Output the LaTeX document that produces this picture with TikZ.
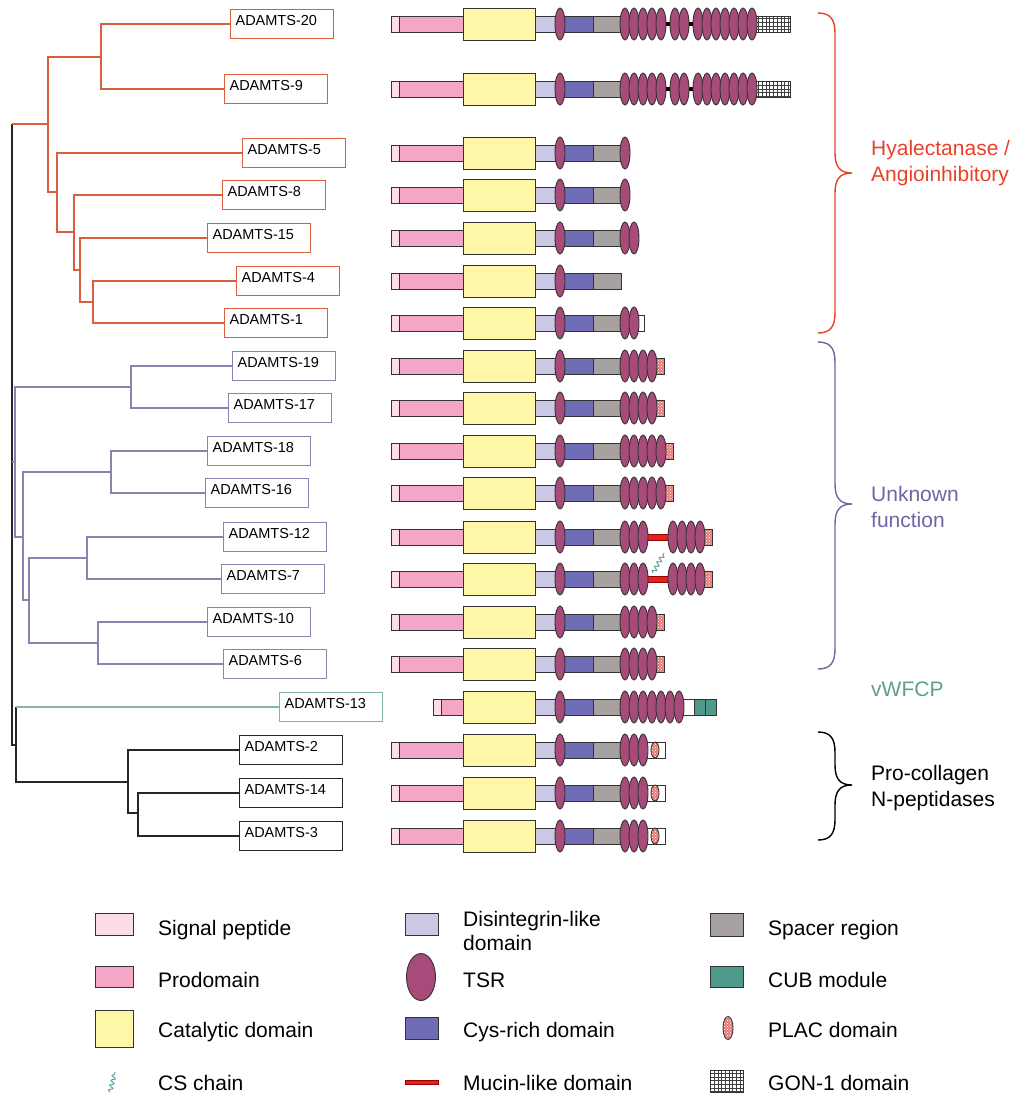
\documentclass[tikz,border=0pt]{standalone}
\usepackage{fontspec}
\setmainfont{Liberation Sans}
\usepackage{xcolor}
\usetikzlibrary{patterns,decorations.pathmorphing}

\definecolor{sigpink}{HTML}{FBDCE7}
\definecolor{propink}{HTML}{F3A6C6}
\definecolor{catyel}{HTML}{FFF7A8}
\definecolor{dislav}{HTML}{CAC8E4}
\definecolor{cyspur}{HTML}{716CB6}
\definecolor{spagray}{HTML}{A8A1A1}
\definecolor{tsrmag}{HTML}{A64B7A}
\definecolor{cubteal}{HTML}{4F9B8B}
\definecolor{mucred}{HTML}{E2231E}
\definecolor{placred}{HTML}{E0504A}
\definecolor{csteal}{HTML}{5FA3A3}
\definecolor{hyared}{HTML}{D8603F}
\definecolor{hyatxt}{HTML}{E8412B}
\definecolor{unkpur}{HTML}{8784B2}
\definecolor{unktxt}{HTML}{6C66A4}
\definecolor{vwfteal}{HTML}{86B3AD}
\definecolor{vwftxt}{HTML}{5E9E90}

% N-terminal half shared by every protease: signal, pro, catalytic, disintegrin, TSR, cys-rich, spacer
\newcommand{\adamcore}[2]{%
  \draw[dom,fill=sigpink] (#2,#1-8) rectangle (#2+8,#1+8);
  \draw[dom,fill=propink] (#2+8,#1-8) rectangle (463,#1+8);
  \draw[dom,fill=catyel] (463,#1-16) rectangle (535,#1+16);
  \draw[dom,fill=dislav] (535,#1-8) rectangle (557,#1+8);
  \draw[dom,fill=cyspur] (557,#1-8) rectangle (593,#1+8);
  \draw[dom,fill=spagray] (593,#1-8) rectangle (621,#1+8);
  \draw[dom,fill=tsrmag] (560,#1) ellipse (5pt and 16pt);
}
% a run of TSRs: row, first x, count
\newcommand{\tsrrun}[3]{%
  \foreach \k in {1,...,#3}
    \draw[dom,fill=tsrmag] ({#2+9*(\k-1)},#1) ellipse (5pt and 16pt);
}
\newcommand{\placbox}[2]{%
  \draw[dom,preaction={fill=placred!75},pattern=crosshatch dots,pattern color=white] (#2,#1-8) rectangle (#2+8,#1+8);
}
% GON-1 box: corners
\newcommand{\gonbox}[4]{%
  \fill[white] (#1,#2) rectangle (#3,#4);
  \draw[black!75, line width=0.4pt, step=3.7pt] (#1,#2) grid (#3,#4);
  \draw[dom] (#1,#2) rectangle (#3,#4);
}
% colour, top, tip, bottom
\newcommand{\groupbrace}[4]{%
  \draw[#1, line width=1.4pt] (818,#2) .. controls (830,#2) and (835,#2+6) .. (835,#2+20)
    -- (835,#3-20) .. controls (835,#3-6) and (840,#3) .. (852,#3)
    .. controls (840,#3) and (835,#3+6) .. (835,#3+20)
    -- (835,#4-20) .. controls (835,#4-6) and (830,#4) .. (818,#4);
}

\begin{document}
\begin{tikzpicture}[x=1pt,y=-1pt]
    \useasboundingbox (0,0) rectangle (1024,1106);

    \tikzstyle{dom}=[draw=black!80, line width=0.9pt]
    \tikzstyle{genebox}=[rectangle, line width=1.2pt, minimum height=29pt, inner xsep=5pt, text width=93pt, align=left, text height=10.5pt, text depth=8pt, font=\fontsize{14.5}{17}\selectfont, anchor=west]
    \tikzstyle{hyabox}=[genebox, draw=hyared]
    \tikzstyle{unkbox}=[genebox, draw=unkpur]
    \tikzstyle{vwfbox}=[genebox, draw=vwfteal]
    \tikzstyle{pcbox}=[genebox, draw=black!85]
    \tikzstyle{hyaline}=[draw=hyared, line width=1.2pt]
    \tikzstyle{unkline}=[draw=unkpur, line width=1.2pt]
    \tikzstyle{vwfline}=[draw=vwfteal, line width=1.2pt]
    \tikzstyle{pcline}=[draw=black!85, line width=1.2pt]
    \tikzstyle{cschain}=[csteal, line width=1pt, decorate, decoration={snake, amplitude=2pt, segment length=5pt}]
    \tikzstyle{keytext}=[anchor=base west, inner sep=0pt, align=left, font=\fontsize{21}{24}\selectfont]
    \tikzstyle{grouptext}=[anchor=base west, inner sep=0pt, align=left, font=\fontsize{21}{26}\selectfont]

    % gene names
    \node[hyabox] (a20) at (230,24) {ADAMTS-20};
    \node[hyabox] (a9)  at (224,89) {ADAMTS-9};
    \node[hyabox] (a5)  at (242,153) {ADAMTS-5};
    \node[hyabox] (a8)  at (222,195) {ADAMTS-8};
    \node[hyabox] (a15) at (207,238) {ADAMTS-15};
    \node[hyabox] (a4)  at (236,281) {ADAMTS-4};
    \node[hyabox] (a1)  at (224,323) {ADAMTS-1};
    \node[unkbox] (a19) at (232,366) {ADAMTS-19};
    \node[unkbox] (a17) at (228,408) {ADAMTS-17};
    \node[unkbox] (a18) at (207,451) {ADAMTS-18};
    \node[unkbox] (a16) at (205,493) {ADAMTS-16};
    \node[unkbox] (a12) at (223,537) {ADAMTS-12};
    \node[unkbox] (a7)  at (221,579) {ADAMTS-7};
    \node[unkbox] (a10) at (207,622) {ADAMTS-10};
    \node[unkbox] (a6)  at (223,664) {ADAMTS-6};
    \node[vwfbox] (a13) at (279,707) {ADAMTS-13};
    \node[pcbox]  (a2)  at (239,750) {ADAMTS-2};
    \node[pcbox]  (a14) at (239,793) {ADAMTS-14};
    \node[pcbox]  (a3)  at (239,836) {ADAMTS-3};

    % tree
    \coordinate (rtop) at (12,124);
    \coordinate (rbot) at (12,745);
    \coordinate (hya) at (48,124);
    \coordinate (h1) at (101,57);
    \coordinate (h2) at (57,192);
    \coordinate (h3) at (74,232);
    \coordinate (h4) at (80,270);
    \coordinate (h5) at (93,302);
    \coordinate (unk) at (15,462);
    \coordinate (u1) at (131,387);
    \coordinate (u2) at (23,537);
    \coordinate (u3) at (111,472);
    \coordinate (u4) at (29,600);
    \coordinate (u5) at (87,558);
    \coordinate (u6) at (98,643);
    \coordinate (low) at (16,745);
    \coordinate (pc) at (128,782);
    \coordinate (pc2) at (138,813);

    \draw [pcline] (rtop) -- (rbot) -- (low);
    \draw [hyaline] (rtop) -- (hya);
    \draw [hyaline] (hya) |- (h1);
    \draw [hyaline] (hya) |- (h2);
    \draw [hyaline] (h1) |- (a20.west);
    \draw [hyaline] (h1) |- (a9.west);
    \draw [hyaline] (h2) |- (a5.west);
    \draw [hyaline] (h2) |- (h3);
    \draw [hyaline] (h3) |- (a8.west);
    \draw [hyaline] (h3) |- (h4);
    \draw [hyaline] (h4) |- (a15.west);
    \draw [hyaline] (h4) |- (h5);
    \draw [hyaline] (h5) |- (a4.west);
    \draw [hyaline] (h5) |- (a1.west);

    \draw [unkline] (rtop |- unk) -- (unk);
    \draw [unkline] (unk) |- (u1);
    \draw [unkline] (unk) |- (u2);
    \draw [unkline] (u1) |- (a19.west);
    \draw [unkline] (u1) |- (a17.west);
    \draw [unkline] (u2) |- (u3);
    \draw [unkline] (u2) |- (u4);
    \draw [unkline] (u3) |- (a18.west);
    \draw [unkline] (u3) |- (a16.west);
    \draw [unkline] (u4) |- (u5);
    \draw [unkline] (u4) |- (u6);
    \draw [unkline] (u5) |- (a12.west);
    \draw [unkline] (u5) |- (a7.west);
    \draw [unkline] (u6) |- (a10.west);
    \draw [unkline] (u6) |- (a6.west);

    \draw [pcline] (low) -- (low |- a13.west);
    \draw [vwfline] (low |- a13.west) -- (a13.west);
    \draw [pcline] (low) |- (pc);
    \draw [pcline] (pc) |- (a2.west);
    \draw [pcline] (pc) |- (pc2);
    \draw [pcline] (pc2) |- (a14.west);
    \draw [pcline] (pc2) |- (a3.west);

    % domain organisation
    \foreach \ry in {24,89} {
      \adamcore{\ry}{391}
      \gonbox{752}{\ry-8}{790}{\ry+8}
      \fill[black] (660,\ry-2) rectangle (676,\ry+2);
      \fill[black] (684,\ry-2) rectangle (698,\ry+2);
      \tsrrun{\ry}{625}{5}
      \tsrrun{\ry}{675}{2}
      \tsrrun{\ry}{698}{7}
    }
    \foreach \ry in {153,195} {
      \adamcore{\ry}{391}
      \tsrrun{\ry}{625}{1}
    }
    \adamcore{238}{391}
    \tsrrun{238}{625}{2}
    \adamcore{281}{391}
    \adamcore{323}{391}
    \draw[dom,fill=white] (630,315) rectangle (644,331);
    \tsrrun{323}{625}{2}

    \foreach \ry in {366,408,622,664} {
      \adamcore{\ry}{391}
      \placbox{\ry}{656}
      \tsrrun{\ry}{625}{4}
    }
    \foreach \ry in {451,493} {
      \adamcore{\ry}{391}
      \placbox{\ry}{665}
      \tsrrun{\ry}{625}{5}
    }
    \foreach \ry in {537,579} {
      \adamcore{\ry}{391}
      \draw[draw=red!60!black, line width=0.5pt, fill=mucred] (646,\ry-3) rectangle (671,\ry+3);
      \tsrrun{\ry}{625}{3}
      \placbox{\ry}{704}
      \tsrrun{\ry}{673}{4}
    }
    \draw[cschain] (653,573) -- (664,553);

    \adamcore{707}{433}
    \draw[dom,fill=white] (680,699) rectangle (694,715);
    \draw[dom,fill=cubteal] (694,699) rectangle (705,715);
    \draw[dom,fill=cubteal] (705,699) rectangle (716,715);
    \tsrrun{707}{625}{7}

    \foreach \ry in {750,793,836} {
      \adamcore{\ry}{391}
      \draw[dom,fill=white] (645,\ry-8) rectangle (665,\ry+8);
      \draw[dom,preaction={fill=placred!75},pattern=crosshatch dots,pattern color=white] (655,\ry) ellipse (4pt and 8pt);
      \tsrrun{\ry}{625}{3}
    }

    % groups
    \groupbrace{hyatxt}{13}{173}{333}
    \groupbrace{unktxt}{342}{504}{669}
    \groupbrace{black}{732}{785}{840}
    \node[grouptext, text=hyatxt] (ghya) at (871,181) {Hyalectanase /\\Angioinhibitory};
    \node[grouptext, text=unktxt] (gunk) at (871,527) {Unknown\\function};
    \node[grouptext, text=vwftxt] (gvwf) at (871,696) {vWFCP};
    \node[grouptext] (gpc) at (871,806) {Pro-collagen\\N-peptidases};

    % key
    \draw[dom,fill=sigpink] (95,913) rectangle (133,935);
    \draw[dom,fill=propink] (95,966) rectangle (133,987);
    \draw[dom,fill=catyel] (95,1010) rectangle (133,1047);
    \draw[cschain] (110,1092) -- (115,1072);
    \draw[dom,fill=dislav] (405,913) rectangle (438,935);
    \draw[dom,fill=tsrmag] (421,977) ellipse (14.5pt and 23.5pt);
    \draw[dom,fill=cyspur] (405,1017) rectangle (438,1039);
    \draw[draw=red!60!black, line width=0.5pt, fill=mucred] (405,1080) rectangle (438,1084);
    \draw[dom,fill=spagray] (710,913) rectangle (743,936);
    \draw[dom,fill=cubteal] (710,966) rectangle (743,987);
    \draw[dom,preaction={fill=placred!75},pattern=crosshatch dots,pattern color=white] (728,1028) ellipse (5pt and 11.5pt);
    \gonbox{710}{1070}{743}{1092}

    \node[keytext] (ksig) at (158,935) {Signal peptide};
    \node[keytext] (kpro) at (158,987) {Prodomain};
    \node[keytext] (kcat) at (158,1037) {Catalytic domain};
    \node[keytext] (kcs)  at (158,1090) {CS chain};
    \node[keytext] (kdis) at (463,950) {Disintegrin-like\\domain};
    \node[keytext] (ktsr) at (463,987) {TSR};
    \node[keytext] (kcys) at (463,1037) {Cys-rich domain};
    \node[keytext] (kmuc) at (463,1090) {Mucin-like domain};
    \node[keytext] (kspa) at (768,935) {Spacer region};
    \node[keytext] (kcub) at (768,987) {CUB module};
    \node[keytext] (kpla) at (768,1037) {PLAC domain};
    \node[keytext] (kgon) at (768,1090) {GON-1 domain};

\end{tikzpicture}
\end{document}
